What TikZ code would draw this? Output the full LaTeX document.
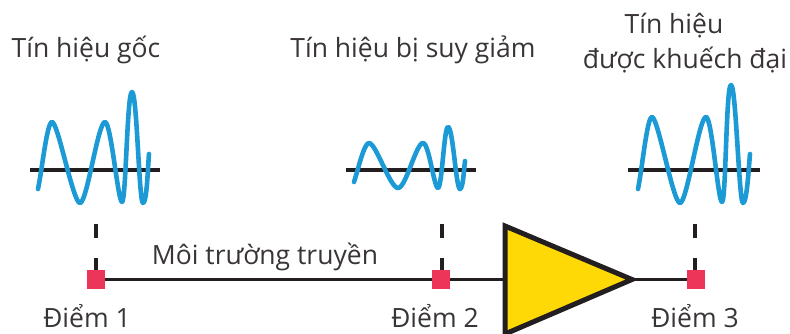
\documentclass[tikz,border=0pt]{standalone}
\usepackage{fontspec}
\setmainfont{Open Sans}
\definecolor{wavec}{HTML}{1B9AD6}
\definecolor{sqc}{HTML}{EC3558}
\definecolor{ampc}{HTML}{FFD906}
\definecolor{inkc}{HTML}{231F20}
\begin{document}
\begin{tikzpicture}[x=1pt,y=-1pt,
  lbl/.style={inner sep=0pt,font=\fontsize{26.5}{30}\selectfont,text=inkc!90},
  base/.style={line width=3.6pt,draw=inkc},
  wave/.style={line width=4.6pt,draw=wavec,line cap=round,line join=round},
  sq/.style={rectangle,fill=sqc,minimum width=18pt,minimum height=19pt,inner sep=0pt},
  link/.style={line width=3.6pt,draw=inkc},
  lead/.style={line width=3.2pt,draw=inkc,dash pattern=on 14pt off 20pt on 14pt},
  amp/.style={line width=5pt,draw=inkc,fill=ampc,line join=miter}]
\useasboundingbox (0,0) rectangle (790,334);
\clip (0,0) rectangle (790,334);
% signals
\coordinate (b1l) at (30,170); \coordinate (b1r) at (160,170);
\coordinate (b2l) at (346,170); \coordinate (b2r) at (476,170);
\coordinate (b3l) at (628,170); \coordinate (b3r) at (760,170);
\draw[base] (b1l) -- (b1r);
\draw[base] (b2l) -- (b2r);
\draw[base] (b3l) -- (b3r);
\draw[wave] (38,189) .. controls (42,170) and (47,122) .. (52,122)
  .. controls +(6,0) and +(-7,0) .. (80,203)
  .. controls +(7,0) and +(-7,0) .. (105,122)
  .. controls +(6,0) and +(-4,0) .. (122,202)
  .. controls +(4,0) and +(-5,0) .. (132,92)
  .. controls +(5,0) and +(-4,0) .. (143,203)
  .. controls +(4,0) and +(-1,10) .. (149,154);
\draw[wave] (354,182) .. controls (358,170) and (364,143) .. (369,143)
  .. controls +(7,0) and +(-8,0) .. (398,188)
  .. controls +(8,0) and +(-7,0) .. (423,143)
  .. controls +(6,0) and +(-4,0) .. (438,188)
  .. controls +(4,0) and +(-4,0) .. (448,127)
  .. controls +(5,0) and +(-4,0) .. (460,189)
  .. controls +(3,0) and +(-1,8) .. (465,161);
\draw[wave] (638,189) .. controls (642,170) and (647,117) .. (652,117)
  .. controls +(6,0) and +(-7,0) .. (680,203)
  .. controls +(7,0) and +(-7,0) .. (706,117)
  .. controls +(6,0) and +(-4,0) .. (722,202)
  .. controls +(4,0) and +(-5,0) .. (731,85)
  .. controls +(5,0) and +(-4,0) .. (743,203)
  .. controls +(4,0) and +(-1,10) .. (750,154);
% transmission line
\node[sq] (p1) at (96,279.5) {};
\node[sq] (p2) at (441,279.5) {};
\node[sq] (p3) at (696,279.5) {};
\coordinate (ampin) at (504,279.5);
\coordinate (ampout) at (635,279.5);
\coordinate (d1) at (96,224);
\coordinate (d2) at (442,224);
\coordinate (d3) at (695,224);
\draw[link] (p1) -- (p2);
\draw[link] (p2) -- (ampin);
\draw[link] (ampout) -- (p3);
\draw[lead] (d1) -- (d1 |- p1.north);
\draw[lead] (d2) -- (d2 |- p2.north);
\draw[lead] (d3) -- (d3 |- p3.north);
\draw[amp] (505,226) -- (632,279.5) -- (505,334) -- cycle;
% labels
\node[lbl] (t1) at (86,50) {Tín hiệu gốc};
\node[lbl] (t2) at (413,50) {Tín hiệu bị suy giảm};
\node[lbl] (t3) at (674,26) {Tín hiệu};
\node[lbl] (t4) at (685,60) {được khuếch đại};
\node[lbl] (t5) at (265,257) {Môi trường truyền};
\node[lbl] (t6) at (87,316) {Điểm 1};
\node[lbl] (t7) at (435,316) {Điểm 2};
\node[lbl] (t8) at (695,316) {Điểm 3};
\end{tikzpicture}
\end{document}
